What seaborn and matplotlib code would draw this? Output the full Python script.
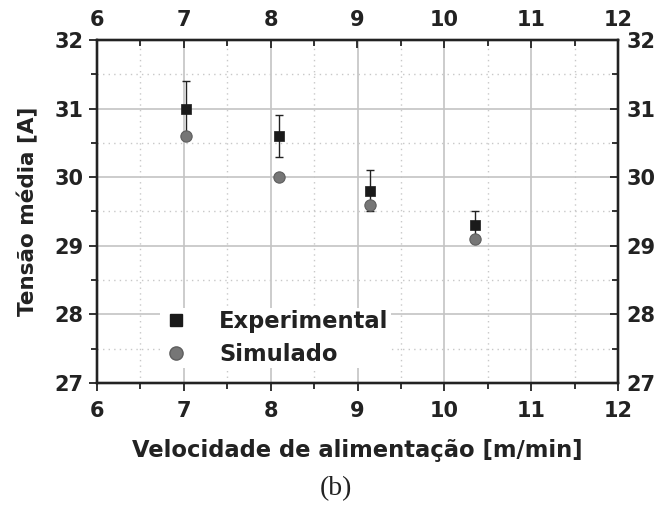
import matplotlib
matplotlib.use("Agg")
import matplotlib.pyplot as plt
from matplotlib.ticker import MultipleLocator
from matplotlib.lines import Line2D
import seaborn as sns
import pandas as pd

# data
velocidade = [7.02, 8.10, 9.14, 10.35]
experimental = [31.0, 30.6, 29.8, 29.3]
exp_erro = [0.4, 0.3, 0.3, 0.2]
simulado = [30.6, 30.0, 29.6, 29.1]
x_ticks = [6, 7, 8, 9, 10, 11, 12]
y_ticks = [27, 28, 29, 30, 31, 32]

sns.set_style("white")
plt.rcParams['font.family'] = ['DejaVu Sans']

INK = "#222222"
fig = plt.figure(figsize=(6.72, 5.07), dpi=100)
ax = fig.add_axes([97/672, 1-383/507, (618-97)/672, (383-40)/507])

df = pd.DataFrame({"v": velocidade, "exp": experimental, "err": exp_erro, "sim": simulado})

ax.errorbar(df["v"], df["exp"], yerr=df["err"], fmt="none", ecolor=INK,
            elinewidth=1.0, capsize=3, capthick=1.0, zorder=3)
sns.scatterplot(data=df, x="v", y="sim", ax=ax, marker="o", s=66,
                color="#767676", edgecolor="#5e5e5e", linewidth=0.8, zorder=4)
sns.scatterplot(data=df, x="v", y="exp", ax=ax, marker="s", s=56,
                color="#1a1a1a", edgecolor="#1a1a1a", linewidth=0.5, zorder=5)

ax.set_xlim(6, 12)
ax.set_ylim(27, 32)
ax.set_xticks(x_ticks)
ax.set_yticks(y_ticks)
ax.xaxis.set_minor_locator(MultipleLocator(0.5))
ax.yaxis.set_minor_locator(MultipleLocator(0.5))
ax.grid(True, which="major", color="#c4c4c4", linewidth=1.2, linestyle="-")
ax.grid(True, which="minor", color="#c8c8c8", linewidth=1.0, linestyle=(0, (1, 3)))
ax.set_axisbelow(True)

for s in ax.spines.values():
    s.set_color(INK)
    s.set_linewidth(1.6)
    s.set_visible(True)

TS = 15
ax.tick_params(which="both", direction="out", color=INK, width=1.3,
               top=False, right=False, labelsize=TS)
ax.tick_params(which="major", length=6)
ax.tick_params(which="minor", length=4)
ax.tick_params(axis="x", pad=7)
for lab in ax.get_xticklabels() + ax.get_yticklabels():
    lab.set_fontweight("bold")
    lab.set_color(INK)

axt = ax.twiny()
axt.set_xlim(6, 12)
axt.set_xticks(x_ticks)
axt.xaxis.set_minor_locator(MultipleLocator(0.5))
axt.tick_params(which="both", direction="in", color=INK, width=1.3, labelsize=TS, pad=7)
axt.tick_params(which="major", length=6)
axt.tick_params(which="minor", length=4)
for lab in axt.get_xticklabels():
    lab.set_fontweight("bold"); lab.set_color(INK)

axr = ax.twinx()
axr.set_ylim(27, 32)
axr.set_yticks(y_ticks)
axr.yaxis.set_minor_locator(MultipleLocator(0.5))
axr.tick_params(which="both", direction="in", color=INK, width=1.3, labelsize=TS, pad=6)
axr.tick_params(which="major", length=6)
axr.tick_params(which="minor", length=4)
for lab in axr.get_yticklabels():
    lab.set_fontweight("bold"); lab.set_color(INK)
for a in (axt, axr):
    for s in a.spines.values():
        s.set_color(INK); s.set_linewidth(1.6)

ax.set_xlabel("Velocidade de alimentação [m/min]", fontsize=16.3, fontweight="bold",
              color=INK, labelpad=13)
ax.set_ylabel("Tensão média [A]", fontsize=15.5, fontweight="bold", color=INK, labelpad=12)

handles = [Line2D([], [], marker="s", linestyle="none", markersize=8.5, color="#1a1a1a"),
           Line2D([], [], marker="o", linestyle="none", markersize=9.5,
                  markerfacecolor="#767676", markeredgecolor="#5e5e5e")]
leg = ax.legend(handles, ["Experimental", "Simulado"], loc="lower left",
                bbox_to_anchor=(0.1, 0.011), frameon=True, fancybox=False,
                edgecolor="none", facecolor="white", framealpha=1,
                prop={"weight": "bold", "size": 16.3}, handletextpad=1.3,
                labelspacing=0.42, borderpad=0.1, handlelength=1.2)
for t in leg.get_texts():
    t.set_color(INK)
leg.set_zorder(10)

fig.text(0.5, 1-489/507, "(b)", ha="center", va="center", fontsize=20,
         family=["Liberation Serif"], color=INK)

fig.savefig("out.png", dpi=100, facecolor="white")
